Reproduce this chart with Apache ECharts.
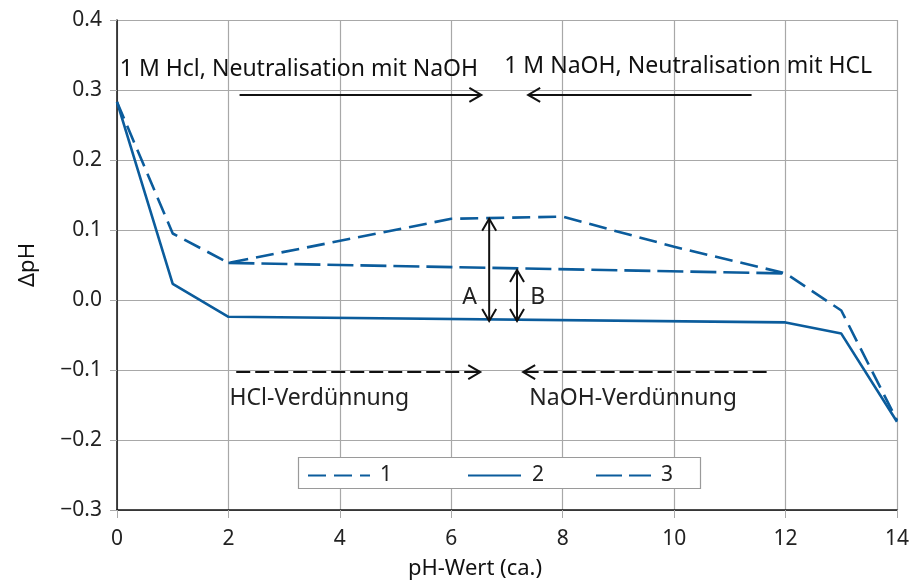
<!DOCTYPE html>
<html><head><meta charset="utf-8">
<script src="https://cdn.jsdelivr.net/npm/echarts@6/dist/echarts.min.js"></script>
<style>html,body{margin:0;padding:0;background:#fff}#c{width:911px;height:581px}</style>
</head><body><div id="c"></div>
<script>
// Data
const xTicks = [0, 2, 4, 6, 8, 10, 12, 14];
const yTicks = [-0.3, -0.2, -0.1, 0.0, 0.1, 0.2, 0.3, 0.4];
const series1X = [0, 1, 2, 6, 8, 10, 12, 13, 14];
const series1Y = [0.283, 0.095, 0.053, 0.116, 0.119, 0.076, 0.038, -0.015, -0.172];
const series2X = [0, 1, 2, 12, 13, 14];
const series2Y = [0.283, 0.023, -0.024, -0.032, -0.048, -0.174];
const series3X = [2, 12];
const series3Y = [0.053, 0.038];
const seriesNames = ['1', '2', '3'];

const FONT = 'Noto Sans';
const BLUE = '#0b5c9c';
const zip = (xs, ys) => xs.map((x, i) => [x, ys[i]]);

const chart = echarts.init(document.getElementById('c'));
const legendBase = { top: 465, padding: 0, itemHeight: 14, z: 20,
  itemStyle: { opacity: 0, borderWidth: 0 } };
const option = {
  animation: false,
  backgroundColor: '#fff',
  grid: { left: 117, right: 14, top: 20, bottom: 71, containLabel: false, outerBoundsMode: 'none' },
  xAxis: {
    type: 'value', min: xTicks[0], max: xTicks[xTicks.length - 1], interval: 2,
    name: 'pH-Wert (ca.)', nameLocation: 'middle', nameGap: 48,
    nameTextStyle: { fontFamily: FONT, fontSize: 22, color: '#111', padding: [0, 64, 0, 0] },
    axisLine: { onZero: false, lineStyle: { color: '#111', width: 1.5 } },
    axisTick: { show: true, length: 8, lineStyle: { color: '#aaa' } },
    axisLabel: { fontFamily: FONT, fontSize: 21, color: '#222', margin: 19 },
    splitLine: { show: true, lineStyle: { color: '#a8a8a8', width: 1.2 } }
  },
  yAxis: {
    type: 'value', min: yTicks[0], max: yTicks[yTicks.length - 1], interval: 0.1,
    name: 'ΔpH', nameLocation: 'middle', nameGap: 78, nameRotate: 90,
    nameTextStyle: { fontFamily: FONT, fontSize: 22, color: '#111' },
    axisLine: { show: true, onZero: false, lineStyle: { color: '#111', width: 1.5 } },
    axisTick: { show: true, length: 7, lineStyle: { color: '#aaa' } },
    axisLabel: { fontFamily: FONT, fontSize: 21, color: '#222', margin: 15,
      formatter: v => (v < -1e-9 ? '\u2212' : '') + Math.abs(v).toFixed(1) },
    splitLine: { show: true, lineStyle: { color: '#a8a8a8', width: 1.2 } }
  },
  legend: [
    Object.assign({}, legendBase, { data: [seriesNames[0]], left: 307, itemWidth: 62,
      textStyle: { fontFamily: FONT, fontSize: 21, color: '#222', padding: [0, 0, 0, 5] } }),
    Object.assign({}, legendBase, { data: [seriesNames[1]], left: 467, itemWidth: 53,
      textStyle: { fontFamily: FONT, fontSize: 21, color: '#222', padding: [0, 0, 0, 6] } }),
    Object.assign({}, legendBase, { data: [seriesNames[2]], left: 595, itemWidth: 55,
      textStyle: { fontFamily: FONT, fontSize: 21, color: '#222', padding: [0, 0, 0, 5] } })
  ],
  series: [
    { name: seriesNames[0], type: 'line', data: zip(series1X, series1Y), symbol: 'none', z: 3,
      lineStyle: { color: BLUE, width: 2.6, type: [18, 8] }, itemStyle: { color: BLUE } },
    { name: seriesNames[1], type: 'line', data: zip(series2X, series2Y), symbol: 'none', z: 3,
      lineStyle: { color: BLUE, width: 2.6, type: 'solid' }, itemStyle: { color: BLUE } },
    { name: seriesNames[2], type: 'line', data: zip(series3X, series3Y), symbol: 'none', z: 3,
      lineStyle: { color: BLUE, width: 2.6, type: [26, 7] }, itemStyle: { color: BLUE } }
  ]
};
chart.setOption(option);

// Annotations in data coordinates
const P = (x, y) => chart.convertToPixel({ gridIndex: 0 }, [x, y]);
const ink = '#111';
function hArrow(x1, x2, y, dashed) {
  const a = P(x1, y), b = P(x2, y);
  const dir = Math.sign(b[0] - a[0]);
  return [{ type: 'line', shape: { x1: a[0], y1: a[1], x2: b[0], y2: b[1] },
    style: { stroke: ink, lineWidth: 2, lineDash: dashed ? [14, 5] : null }, z: 10 },
    { type: 'polyline', shape: { points: [[b[0] - dir * 12, b[1] - 7], [b[0], b[1]], [b[0] - dir * 12, b[1] + 7]] },
      style: { stroke: ink, lineWidth: 2, fill: null }, z: 10 }];
}
function vArrow(x, y1, y2) {
  const a = P(x, y1), b = P(x, y2);
  return [{ type: 'line', shape: { x1: a[0], y1: a[1], x2: b[0], y2: b[1] }, style: { stroke: ink, lineWidth: 2 }, z: 10 },
    { type: 'polyline', shape: { points: [[a[0] - 7, a[1] + 12], [a[0], a[1]], [a[0] + 7, a[1] + 12]] }, style: { stroke: ink, lineWidth: 2, fill: null }, z: 10 },
    { type: 'polyline', shape: { points: [[b[0] - 7, b[1] - 12], [b[0], b[1]], [b[0] + 7, b[1] - 12]] }, style: { stroke: ink, lineWidth: 2, fill: null }, z: 10 }];
}
function label(x, y, text, align, size, color) {
  const p = P(x, y);
  return { type: 'text', x: p[0], y: p[1], z: 10,
    style: { text, fontFamily: FONT, fontSize: size || 22, fill: color || ink, align: align || 'left', verticalAlign: 'middle' } };
}
const g = [].concat(
  hArrow(2.2, 6.54, 0.293, false),
  hArrow(11.39, 7.38, 0.293, false),
  hArrow(2.14, 6.52, -0.103, true),
  hArrow(11.66, 7.29, -0.103, true),
  vArrow(6.68, 0.116, -0.030),
  vArrow(7.18, 0.043, -0.030),
  [label(0.05, 0.329, '1 M Hcl, Neutralisation mit NaOH', 'left', 23),
   label(6.95, 0.333, '1 M NaOH, Neutralisation mit HCL', 'left', 23),
   label(2.02, -0.141, 'HCl-Verdünnung', 'left', 23, '#222'),
   label(7.4, -0.141, 'NaOH-Verdünnung', 'left', 23, '#222'),
   label(6.33, 0.003, 'A', 'center', 23, '#222'),
   label(7.55, 0.003, 'B', 'center', 23, '#222')],
  [{ type: 'rect', shape: { x: 298.5, y: 457.5, width: 402, height: 31 },
     style: { fill: '#fff', stroke: '#9a9a9a', lineWidth: 1.2 }, z: 1 }]
);
chart.setOption({ graphic: g });
</script></body></html>
